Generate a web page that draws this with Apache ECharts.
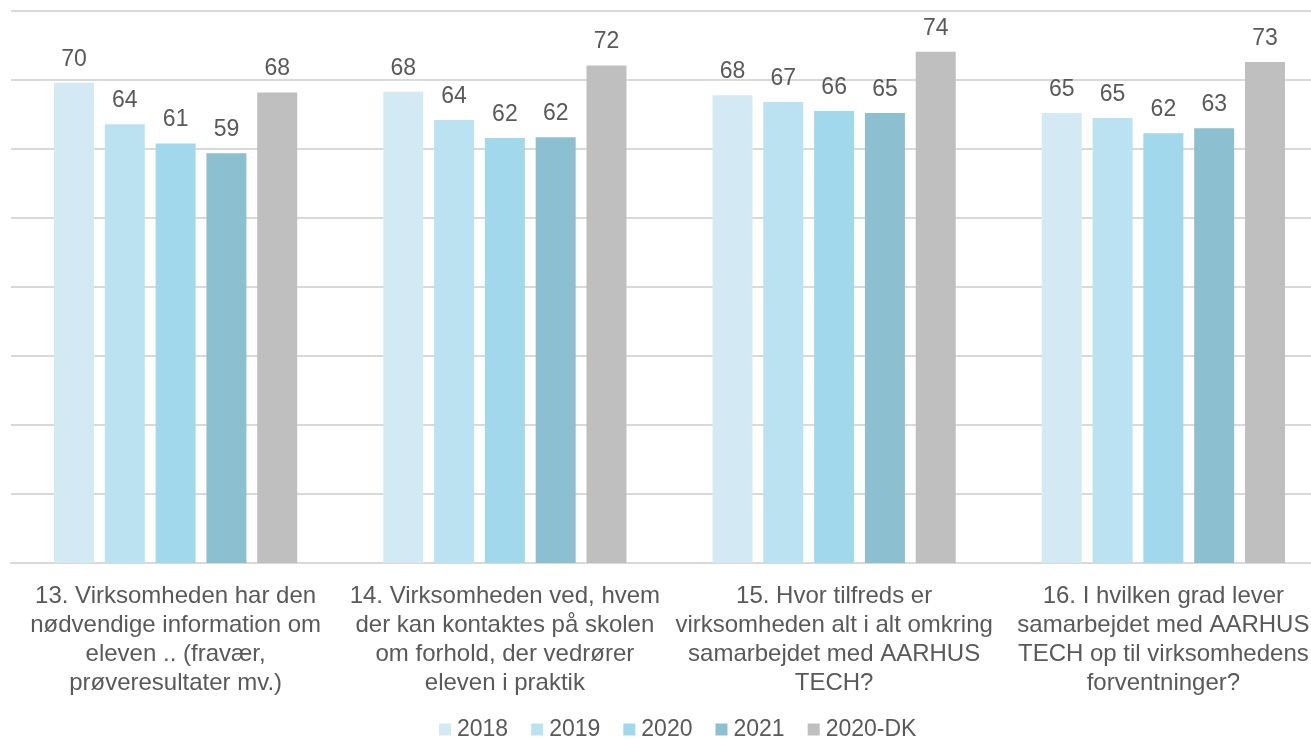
<!DOCTYPE html>
<html>
<head>
<meta charset="utf-8">
<script src="https://cdn.jsdelivr.net/npm/echarts@6/dist/echarts.min.js"></script>
<style>
  html, body { margin: 0; padding: 0; background: #fff; }
  #chart { width: 1311px; height: 738px; }
</style>
</head>
<body>
<div id="chart"></div>
<script>
// spørgsmål (kategorier)
var categories = [
  '13. Virksomheden har den\nnødvendige information om\neleven .. (fravær,\nprøveresultater mv.)',
  '14. Virksomheden ved, hvem\nder kan kontaktes på skolen\nom forhold, der vedrører\neleven i praktik',
  '15. Hvor tilfreds er\nvirksomheden alt i alt omkring\nsamarbejdet med AARHUS\nTECH?',
  '16. I hvilken grad lever\nsamarbejdet med AARHUS\nTECH op til virksomhedens\nforventninger?'
]
var seriesNames = ['2018', '2019', '2020', '2021', '2020-DK']
// aflæst fra søjlehøjderne, vises afrundet
var v2018 = [69.6, 68.3, 67.8, 65.2]
var v2019 = [63.6, 64.2, 66.8, 64.5]
var v2020 = [60.8, 61.6, 65.5, 62.3]
var v2021 = [59.4, 61.7, 65.2, 63.0]
var v2020DK = [68.2, 72.1, 74.1, 72.6]
var colors = ['#D3EAF4', '#BBE2F0', '#A2D8EB', '#8CBFD0', '#BFBFBF']

var values = [v2018, v2019, v2020, v2021, v2020DK]
var font = 'Liberation Sans, Arial, sans-serif'

var chart = echarts.init(document.getElementById('chart'))
chart.setOption({
  animation: false,
  color: colors,
  textStyle: { fontFamily: font },
  grid: { left: 11, top: 11, width: 1317, height: 552, containLabel: false, outerBoundsMode: 'none' },
  legend: {
    top: 713,
    left: 434,
    icon: 'rect',
    itemWidth: 12,
    itemHeight: 12,
    itemGap: 23,
    textStyle: { fontSize: 23, color: '#595959', fontFamily: font, padding: [0, 0, 0, 1] },
    data: seriesNames
  },
  xAxis: {
    type: 'category',
    data: categories,
    axisLine: { lineStyle: { color: '#D9D9D9', width: 2 } },
    axisTick: { show: false },
    axisLabel: {
      interval: 0,
      margin: 19,
      fontSize: 24,
      lineHeight: 29,
      color: '#595959',
      fontFamily: font
    }
  },
  yAxis: {
    type: 'value',
    min: 0,
    max: 80,
    interval: 10,
    axisLabel: { show: false },
    axisLine: { show: false },
    axisTick: { show: false },
    splitLine: { lineStyle: { color: '#D9D9D9', width: 2 } }
  },
  series: seriesNames.map(function (name, i) {
    return {
      name: name,
      type: 'bar',
      data: values[i],
      barWidth: 40,
      barGap: '27%',
      label: {
        show: true,
        position: 'top',
        distance: 12,
        fontSize: 23,
        color: '#595959',
        fontFamily: font,
        formatter: function (p) { return Math.round(p.value) }
      }
    }
  })
})
</script>
</body>
</html>
